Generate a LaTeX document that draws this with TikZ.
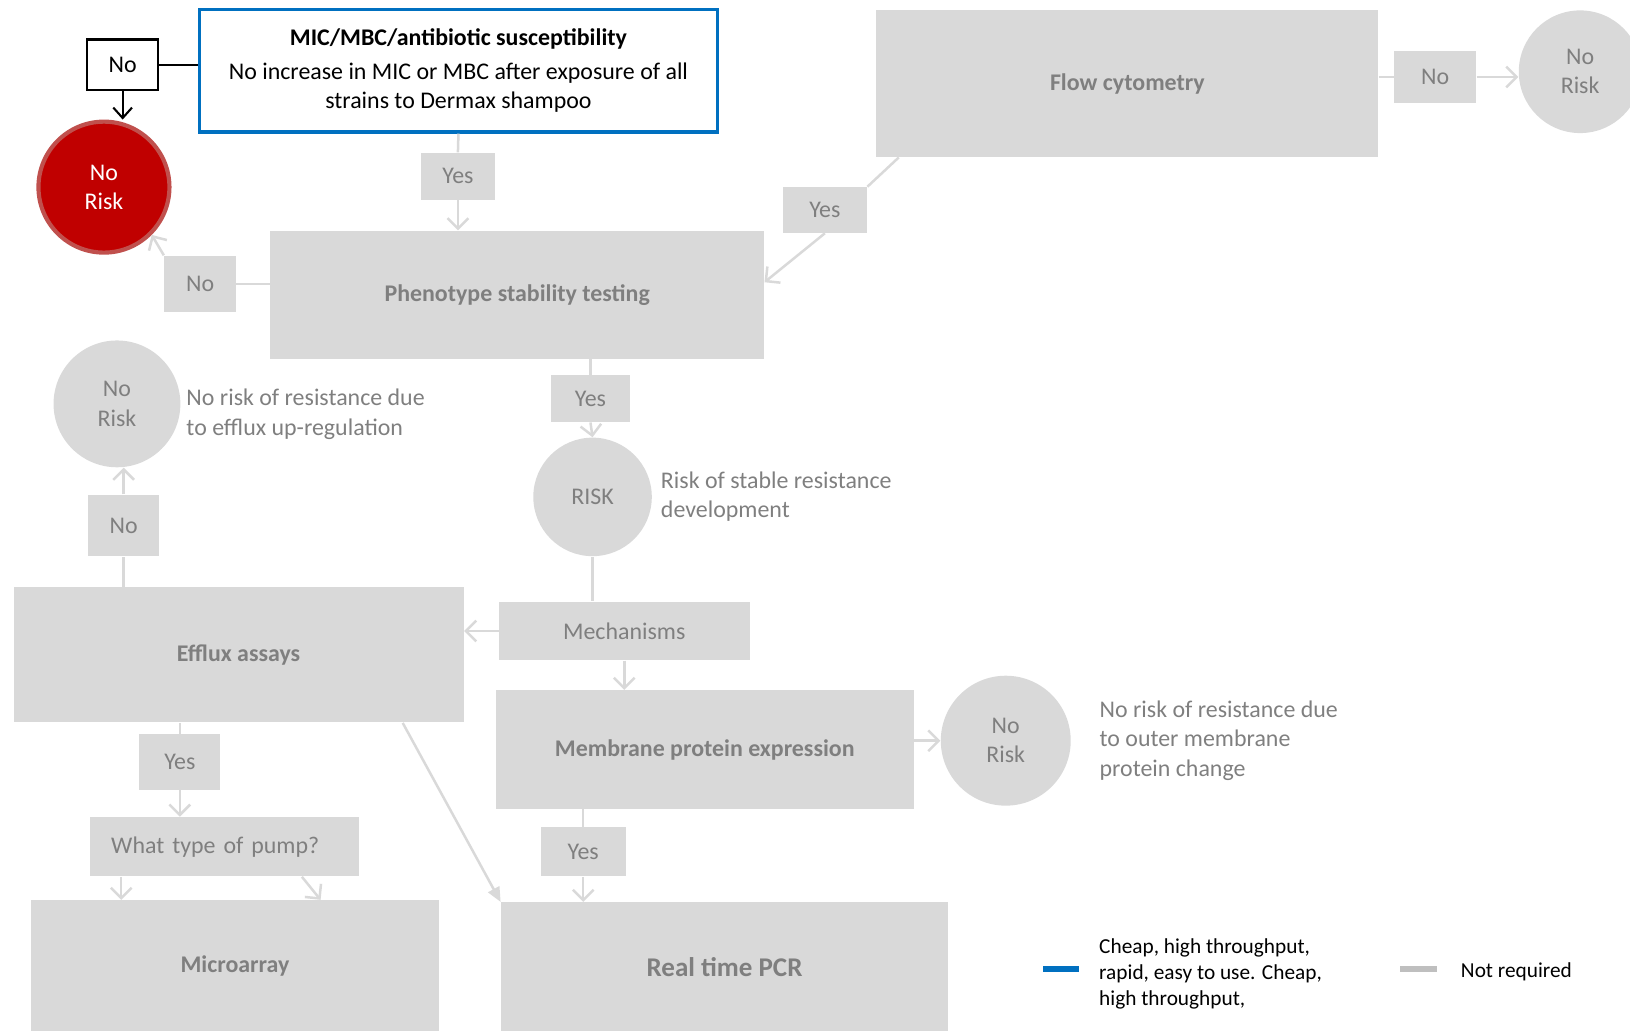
\documentclass[tikz,border=0pt]{standalone}
\usepackage{fontspec}
\setmainfont{Carlito}
\usepackage{xcolor}
\usepackage{tikz}
\usetikzlibrary{arrows.meta,positioning}
\definecolor{ink}{HTML}{7F7F7F}
\definecolor{boxgray}{HTML}{D9D9D9}
\definecolor{keygray}{HTML}{BFBFBF}
\definecolor{accent}{HTML}{0070C0}
\definecolor{riskred}{HTML}{C00000}
\definecolor{riskrim}{HTML}{C0504D}

\begin{document}
\fontsize{11.5}{14}\selectfont
\begin{tikzpicture}[x=0.5pt,y=-0.5pt,
 stepbox/.style={fill=boxgray,inner sep=0pt,align=center,text=ink,font=\bfseries},
 answer/.style={fill=boxgray,inner sep=0pt,text=ink},
 outcome/.style={circle,fill=boxgray,inner sep=0pt,align=center,text=ink},
 note/.style={inner sep=0pt,align=left,text=ink},
 keytext/.style={inner sep=0pt,align=left,anchor=west,font=\fontsize{10.25}{12.5}\selectfont},
 link/.style={draw=boxgray,line width=1.2pt},
 arrow/.style={link,-{Straight Barb[length=5pt,width=10pt]}},
 blackarrow/.style={draw=black,line width=1pt,-{Straight Barb[length=5pt,width=9pt]}}
]
\useasboundingbox (0,0) rectangle (1568,992);
% top row
\node[draw=accent,line width=1.5pt,fill=white,minimum width=249pt,minimum height=59pt,inner sep=0pt,align=center] (mic) at (441,68) {\textbf{MIC/MBC/antibiotic susceptibility}\\[2pt]No increase in MIC or MBC after exposure of all\\strains to Dermax shampoo};
\node[draw=black,line width=1pt,fill=white,minimum width=34pt,minimum height=24.5pt,inner sep=0pt] (nokey) at (118,62.5) {No};
\node[circle,fill=riskred,draw=riskrim,line width=2pt,minimum size=63pt,inner sep=0pt,text=white,align=center] (norisktop) at (100,180) {No\\Risk};
\node[stepbox,minimum width=241.5pt,minimum height=70.5pt] (flow) at (1084.5,80.5) {Flow cytometry};
\node[answer,minimum width=39.5pt,minimum height=25pt] (noflow) at (1380.5,74) {No};
\node[outcome,minimum size=59pt] (nriskflow) at (1520,69) {No\\Risk};
\node[answer,minimum width=35.5pt,minimum height=22.5pt] (yesmic) at (440.5,169.5) {Yes};
\node[answer,minimum width=40.5pt,minimum height=22pt] (yesflow) at (793.5,202) {Yes};
% phenotype
\node[stepbox,minimum width=237.5pt,minimum height=61.5pt] (pheno) at (497.5,283.5) {Phenotype stability testing};
\node[answer,minimum width=34.5pt,minimum height=27pt] (nopheno) at (192.5,273) {No};
\node[answer,minimum width=38pt,minimum height=22.5pt] (yespheno) at (568,383.5) {Yes};
\node[outcome,minimum size=57pt] (risk) at (570,478) {RISK};
\node[note,right=4pt of risk] (risknote) {Risk of stable resistance\\development};
\node[answer,minimum width=120.5pt,minimum height=28pt] (mech) at (600.5,607) {Mechanisms};
% efflux branch
\node[stepbox,minimum width=216.5pt,minimum height=65pt] (efflux) at (229.5,630) {Efflux assays};
\node[answer,minimum width=34pt,minimum height=29.5pt] (noefflux) at (119,505.5) {No};
\node[outcome,minimum size=61pt] (nriskefflux) at (112.5,388.5) {No\\Risk};
\node[note,anchor=west] (effluxnote) at (179,398.5) {No risk of resistance due\\to efflux up-regulation};
\node[answer,minimum width=39pt,minimum height=27pt] (yesefflux) at (173,733) {Yes};
\node[answer,minimum width=129pt,minimum height=28.5pt,text width=109pt,inner xsep=10pt,align=left] (pump) at (216,814.5) {What type of pump?};
\node[stepbox,minimum width=196pt,minimum height=63pt] (micro) at (226,929) {Microarray};
% membrane branch
\node[stepbox,minimum width=201pt,minimum height=57pt] (memb) at (678,721) {Membrane protein expression};
\node[outcome,minimum size=62.5pt] (nriskmemb) at (967.5,712.5) {No\\Risk};
\node[note,right=13.5pt of nriskmemb] (membnote) {No risk of resistance due\\to outer membrane\\protein change};
\node[answer,minimum width=41pt,minimum height=23.5pt] (yesmemb) at (561,819.5) {Yes};
\node[stepbox,minimum width=215pt,minimum height=62pt,font=\bfseries\fontsize{13}{15}\selectfont] (pcr) at (697,930) {Real time PCR};
% key
\node[fill=accent,minimum width=17.5pt,minimum height=3pt,inner sep=0pt] (keycheap) at (1020.5,932) {};
\node[keytext] (keycheaptext) at (1057,937) {Cheap, high throughput,\\rapid, easy to use. Cheap,\\high throughput,};
\node[fill=keygray,minimum width=17.5pt,minimum height=3pt,inner sep=0pt] (keyskip) at (1364.5,932) {};
\node[keytext] (keyskiptext) at (1405,935) {Not required};

% connectors
\draw[draw=black,line width=1pt] (nokey.east) -- (nokey.east -| mic.west);
\draw[blackarrow] (nokey.south) -- (nokey.south |- norisktop.north);
\draw[link] (mic.south) -- (yesmic.north);
\draw[arrow] (yesmic.south) -- (yesmic.south |- pheno.north);
\draw[link] (pheno.west |- nopheno.east) -- (nopheno.east);
\draw[arrow] (nopheno.north west) -- (norisktop.south east);
\draw[link] (flow.east |- noflow.west) -- (noflow.west);
\draw[arrow] (noflow.east) -- (nriskflow.west |- noflow.east);
\draw[link] ([xshift=11pt]flow.south west) -- (yesflow.north east);
\draw[arrow] (yesflow.south) -- ([yshift=6pt]pheno.east);
\draw[link] (yespheno.north |- pheno.south) -- (yespheno.north);
\draw[arrow] (yespheno.south) -- (risk.north);
\draw[link] (risk.south) -- (risk.south |- mech.north);
\draw[arrow] (mech.west) -- (mech.west -| efflux.east);
\draw[link] (noefflux.south |- efflux.north) -- (noefflux.south);
\draw[arrow] (noefflux.north) -- (noefflux.north |- nriskefflux.south);
\draw[arrow] (mech.south) -- (mech.south |- memb.north);
\draw[arrow] (memb.east |- nriskmemb.west) -- (nriskmemb.west);
\draw[link] (yesmemb.north |- memb.south) -- (yesmemb.north);
\draw[arrow] (yesmemb.south) -- (yesmemb.south |- pcr.north);
\draw[link] (yesefflux.north |- efflux.south) -- (yesefflux.north);
\draw[arrow] (yesefflux.south) -- (yesefflux.south |- pump.north);
\draw[arrow] ([xshift=15pt]pump.south west) -- ([xshift=15pt]pump.south west |- micro.north);
\draw[arrow] ([xshift=-27.5pt]pump.south east) -- ([xshift=-57pt]micro.north east);
\draw[link,-{Triangle[length=7pt,width=6pt]}] ([xshift=-29.5pt]efflux.south east) -- (pcr.north west);
\end{tikzpicture}
\end{document}
